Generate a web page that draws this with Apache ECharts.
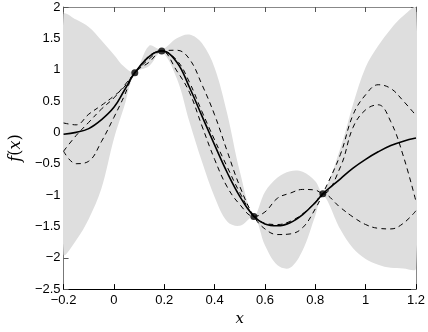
<!DOCTYPE html>
<html>
<head>
<meta charset="utf-8">
<script src="https://cdn.jsdelivr.net/npm/echarts@6/dist/echarts.min.js"></script>
<style>
  html, body { margin: 0; padding: 0; background: #fff; }
  #chart { width: 428px; height: 332px; }
</style>
</head>
<body>
<div id="chart"></div>
<script>
// sample positions along x
var xs = [-0.2, -0.15, -0.1, -0.05, 0, 0.04, 0.083, 0.14, 0.19, 0.25, 0.3, 0.35, 0.4, 0.45, 0.5,
  0.556, 0.6, 0.65, 0.7, 0.75, 0.8, 0.83, 0.9, 0.95, 1.0, 1.05, 1.1, 1.15, 1.2]

// posterior mean (solid)
var meanY = [-0.03, 0.0, 0.06, 0.2, 0.4, 0.66, 0.95, 1.21, 1.30, 1.12, 0.72, 0.26, -0.2, -0.64, -1.02,
  -1.34, -1.46, -1.49, -1.44, -1.31, -1.12, -0.98, -0.74, -0.57, -0.43, -0.31, -0.21, -0.14, -0.09]

// confidence band
var upperY = [1.88, 1.8, 1.68, 1.47, 1.24, 1.05, 0.96, 1.38, 1.32, 1.5, 1.56, 1.42, 1.03, 0.3, -0.62,
  -1.33, -0.95, -0.72, -0.62, -0.63, -0.78, -0.96, -0.25, 0.45, 1.04, 1.38, 1.65, 1.86, 1.98]
var lowerY = [-1.94, -1.72, -1.38, -0.9, -0.1, 0.4, 0.94, 1.06, 1.28, 0.86, 0.17, -0.47, -1.03, -1.42, -1.49,
  -1.35, -1.8, -2.12, -2.16, -1.88, -1.33, -1.0, -1.55, -1.85, -2.02, -2.11, -2.16, -2.17, -2.17]

// posterior samples (dashed)
var sampleA = [0.15, 0.12, 0.29, 0.43, 0.58, 0.72, 0.95, 1.22, 1.30, 1.31, 1.17, 0.76, 0.28, -0.3, -0.86,
  -1.34, -1.54, -1.63, -1.62, -1.52, -1.22, -0.98, -0.35, 0.28, 0.6, 0.76, 0.7, 0.5, 0.27]
var sampleB = [-0.3, -0.05, 0.16, 0.37, 0.55, 0.74, 0.95, 1.17, 1.30, 1.15, 0.8, 0.33, -0.12, -0.55, -0.96,
  -1.34, -1.45, -1.47, -1.42, -1.3, -1.12, -0.98, -1.2, -1.35, -1.47, -1.53, -1.54, -1.45, -1.25]
var sampleC = [-0.3, -0.5, -0.46, -0.15, 0.24, 0.57, 0.95, 1.12, 1.30, 0.98, 0.64, 0.1, -0.43, -0.87, -1.15,
  -1.34, -1.27, -1.05, -0.97, -0.91, -0.92, -0.98, -0.55, 0.08, 0.36, 0.44, 0.17, -0.38, -1.1]

// observations
var obsX = [0.083, 0.19, 0.556, 0.83]
var obsY = [0.95, 1.30, -1.34, -0.98]

function pairs(ys) {
  return xs.map(function (x, i) { return [x, ys[i]] })
}
function minus(v) {
  return String(+v.toFixed(1)).replace('-', '\u2212')
}

// grey band as one polygon: upper edge left->right, lower edge back
function renderBand(params, api) {
  if (params.dataIndex !== 0) return
  var pts = []
  for (var i = 0; i < xs.length; i++) pts.push(api.coord([xs[i], upperY[i]]))
  for (var j = xs.length - 1; j >= 0; j--) pts.push(api.coord([xs[j], lowerY[j]]))
  return {
    type: 'polygon',
    shape: { points: pts, smooth: 0.35 },
    style: { fill: '#dedede' }
  }
}

var chart = echarts.init(document.getElementById('chart'))
var dashed = { color: '#000', width: 1, type: [5, 4] }

chart.setOption({
  animation: false,
  grid: { left: 45, right: 7, top: 7, bottom: 29 },
  xAxis: [{
    type: 'value', min: -0.2, max: 1.2, interval: 0.2,
    axisLine: { onZero: false, lineStyle: { color: '#000', width: 1 } },
    axisTick: { inside: true, length: 5, lineStyle: { color: '#000' } },
    axisLabel: { formatter: minus, color: '#000', fontSize: 13, fontFamily: 'Liberation Sans', margin: 5 },
    splitLine: { show: false },
    name: 'x', nameLocation: 'middle', nameGap: 18,
    nameTextStyle: { fontFamily: 'DejaVu Serif', fontStyle: 'italic', fontSize: 15, color: '#000' }
  }, {
    type: 'value', position: 'top', min: -0.2, max: 1.2, interval: 0.2,
    axisLine: { onZero: false, lineStyle: { color: '#888' } },
    axisTick: { inside: true, length: 5, lineStyle: { color: '#555' } },
    axisLabel: { show: false },
    splitLine: { show: false }
  }],
  yAxis: [{
    type: 'value', min: -2.5, max: 2, interval: 0.5,
    axisLine: { show: true, onZero: false, lineStyle: { color: '#777' } },
    axisTick: { show: true, inside: true, length: 5, lineStyle: { color: '#555' } },
    axisLabel: { formatter: minus, color: '#000', fontSize: 13, fontFamily: 'Liberation Sans', margin: 3 },
    splitLine: { show: false },
    name: '{i|f}({i|x})', nameLocation: 'middle', nameGap: 32,
    nameTextStyle: {
      fontFamily: 'DejaVu Serif', fontSize: 16, color: '#000',
      rich: { i: { fontFamily: 'DejaVu Serif', fontStyle: 'italic', fontSize: 16 } }
    }
  }, {
    type: 'value', position: 'right', min: -2.5, max: 2, interval: 0.5,
    axisLine: { show: true, onZero: false, lineStyle: { color: '#888' } },
    axisTick: { show: true, inside: true, length: 5, lineStyle: { color: '#555' } },
    axisLabel: { show: false },
    splitLine: { show: false }
  }],
  series: [{
    type: 'custom', renderItem: renderBand, clip: true, z: 1,
    data: [0], silent: true
  }, {
    type: 'line', data: pairs(sampleA), smooth: 0.4, symbol: 'none', lineStyle: dashed, z: 3
  }, {
    type: 'line', data: pairs(sampleB), smooth: 0.4, symbol: 'none', lineStyle: dashed, z: 3
  }, {
    type: 'line', data: pairs(sampleC), smooth: 0.4, symbol: 'none', lineStyle: dashed, z: 3
  }, {
    type: 'line', data: pairs(meanY), smooth: 0.4, symbol: 'none',
    lineStyle: { color: '#000', width: 1.6 }, z: 4
  }, {
    type: 'scatter', symbolSize: 7, itemStyle: { color: '#000' }, z: 5,
    data: obsX.map(function (x, i) { return [x, obsY[i]] })
  }]
})
</script>
</body>
</html>
